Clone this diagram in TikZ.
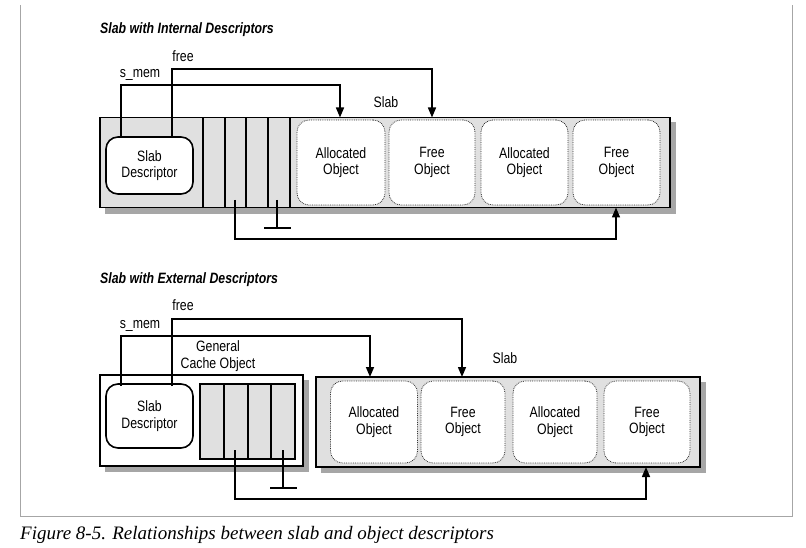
\documentclass[tikz,border=0pt]{standalone}
\usepackage{fontspec}
\setmainfont{Liberation Serif}
\newfontfamily\lab{Liberation Sans}[FakeStretch=0.82]
\usetikzlibrary{arrows.meta}
\definecolor{slabgray}{gray}{0.88}
\definecolor{shadowgray}{gray}{0.65}
\begin{document}
\begin{tikzpicture}[x=1pt,y=-1pt,
  lbl/.style={font=\lab\fontsize{15}{16.5}\selectfont,align=center,inner sep=0},
  ttl/.style={font=\lab\bfseries\itshape\fontsize{15}{16}\selectfont,anchor=west,inner sep=0},
  box/.style={draw,line width=1.6pt},
  shadow/.style={fill=shadowgray,draw=none},
  desc/.style={draw,line width=1.6pt,fill=white,rounded corners=12pt},
  obj/.style={draw=black!80,densely dotted,line width=0.8pt,fill=white,rounded corners=12pt},
  link/.style={line width=1.5pt},
  arr/.style={link,-{Triangle[length=10pt,width=8pt]}}]
\useasboundingbox (0,0) rectangle (806,548);
\draw[gray!70,line width=0.8pt] (20,5) -- (20,516) -- (792,516) -- (792,5);
% ---------- top ----------
\node[ttl] (t1) at (100,30) {Slab with Internal Descriptors};
\fill[shadow] (105,122) rectangle (676,214);
\node[box,fill=slabgray,minimum width=570,minimum height=90,inner sep=0] (slab1) at (385,162.5) {};
\draw[box] (203,117.5) rectangle (290,207.5);
\foreach \x in {225,246,268} \draw[box] (\x,117.5) -- (\x,207.5);
\node[desc,minimum width=87,minimum height=57] (d1) at (149.5,165.5) {};
\node[lbl] at (d1) {Slab\\Descriptor};
\node[obj,minimum width=88,minimum height=85,label={[lbl]center:Allocated\\Object}] (o11) at (341,162.5) {};
\node[obj,minimum width=86,minimum height=85,label={[lbl]center:Free\\Object}] (o12) at (432,162.5) {};
\node[obj,minimum width=87,minimum height=85,label={[lbl]center:Allocated\\Object}] (o13) at (524.5,162.5) {};
\node[obj,minimum width=87,minimum height=85,label={[lbl]center:Free\\Object}] (o14) at (616.5,162.5) {};
\node[lbl] (l1) at (386,102) {Slab};
\node[lbl] (f1) at (183,56) {free};
\node[lbl] (s1) at (140,75) {s\_mem};
\coordinate (a1) at (340,117.5);
\coordinate (b1) at (432,117.5);
\draw[arr] (121,137) |- (340,85) -- (a1);
\draw[arr] (172,137) |- (432,69) -- (b1);
\coordinate (c1) at (616,207.5);
\draw[arr] (235,200) |- (616,239) -- (c1);
\draw[link] (277,200) -- (277,228) (264,228) -- (291,228);
% ---------- bottom ----------
\node[ttl] (t2) at (100,280) {Slab with External Descriptors};
\fill[shadow] (105,380) rectangle (309,472);
\draw[box,fill=white] (100,375) rectangle (303,466);
\fill[shadow] (321,382) rectangle (706,473);
\node[box,fill=slabgray,minimum width=384,minimum height=90,inner sep=0] (slab2) at (508,422) {};
\draw[box,fill=slabgray] (200,384) rectangle (295,459);
\foreach \x in {224,248,271} \draw[box] (\x,384) -- (\x,459);
\node[desc,minimum width=87,minimum height=64] (d2) at (149.5,416) {};
\node[lbl] at (d2) {Slab\\Descriptor};
\node[obj,minimum width=87,minimum height=82,label={[lbl]center:Allocated\\Object}] (o21) at (374,422) {};
\node[obj,minimum width=84,minimum height=82,label={[lbl]center:Free\\Object}] (o22) at (463,422) {};
\node[obj,minimum width=84,minimum height=82,label={[lbl]center:Allocated\\Object}] (o23) at (555,422) {};
\node[obj,minimum width=86,minimum height=82,label={[lbl]center:Free\\Object}] (o24) at (647,422) {};
\node[lbl] (l2) at (505,358) {Slab};
\node[lbl] (g2) at (218,356) {General\\Cache Object};
\node[lbl] (f2) at (183,305) {free};
\node[lbl] (s2) at (140,326) {s\_mem};
\coordinate (a2) at (370,377);
\coordinate (b2) at (462,377);
\draw[arr] (121,386) |- (370,336) -- (a2);
\draw[arr] (172,386) |- (462,319) -- (b2);
\coordinate (c2) at (646,467);
\draw[arr] (235,450) |- (646,499) -- (c2);
\draw[link] (283,450) -- (283,488) (270,488) -- (297,488);
% caption
\node[font=\itshape\fontsize{19}{20}\selectfont,anchor=west,inner sep=0] (cap) at (20,535) {Figure 8-5. Relationships between slab and object descriptors};
\end{tikzpicture}
\end{document}
